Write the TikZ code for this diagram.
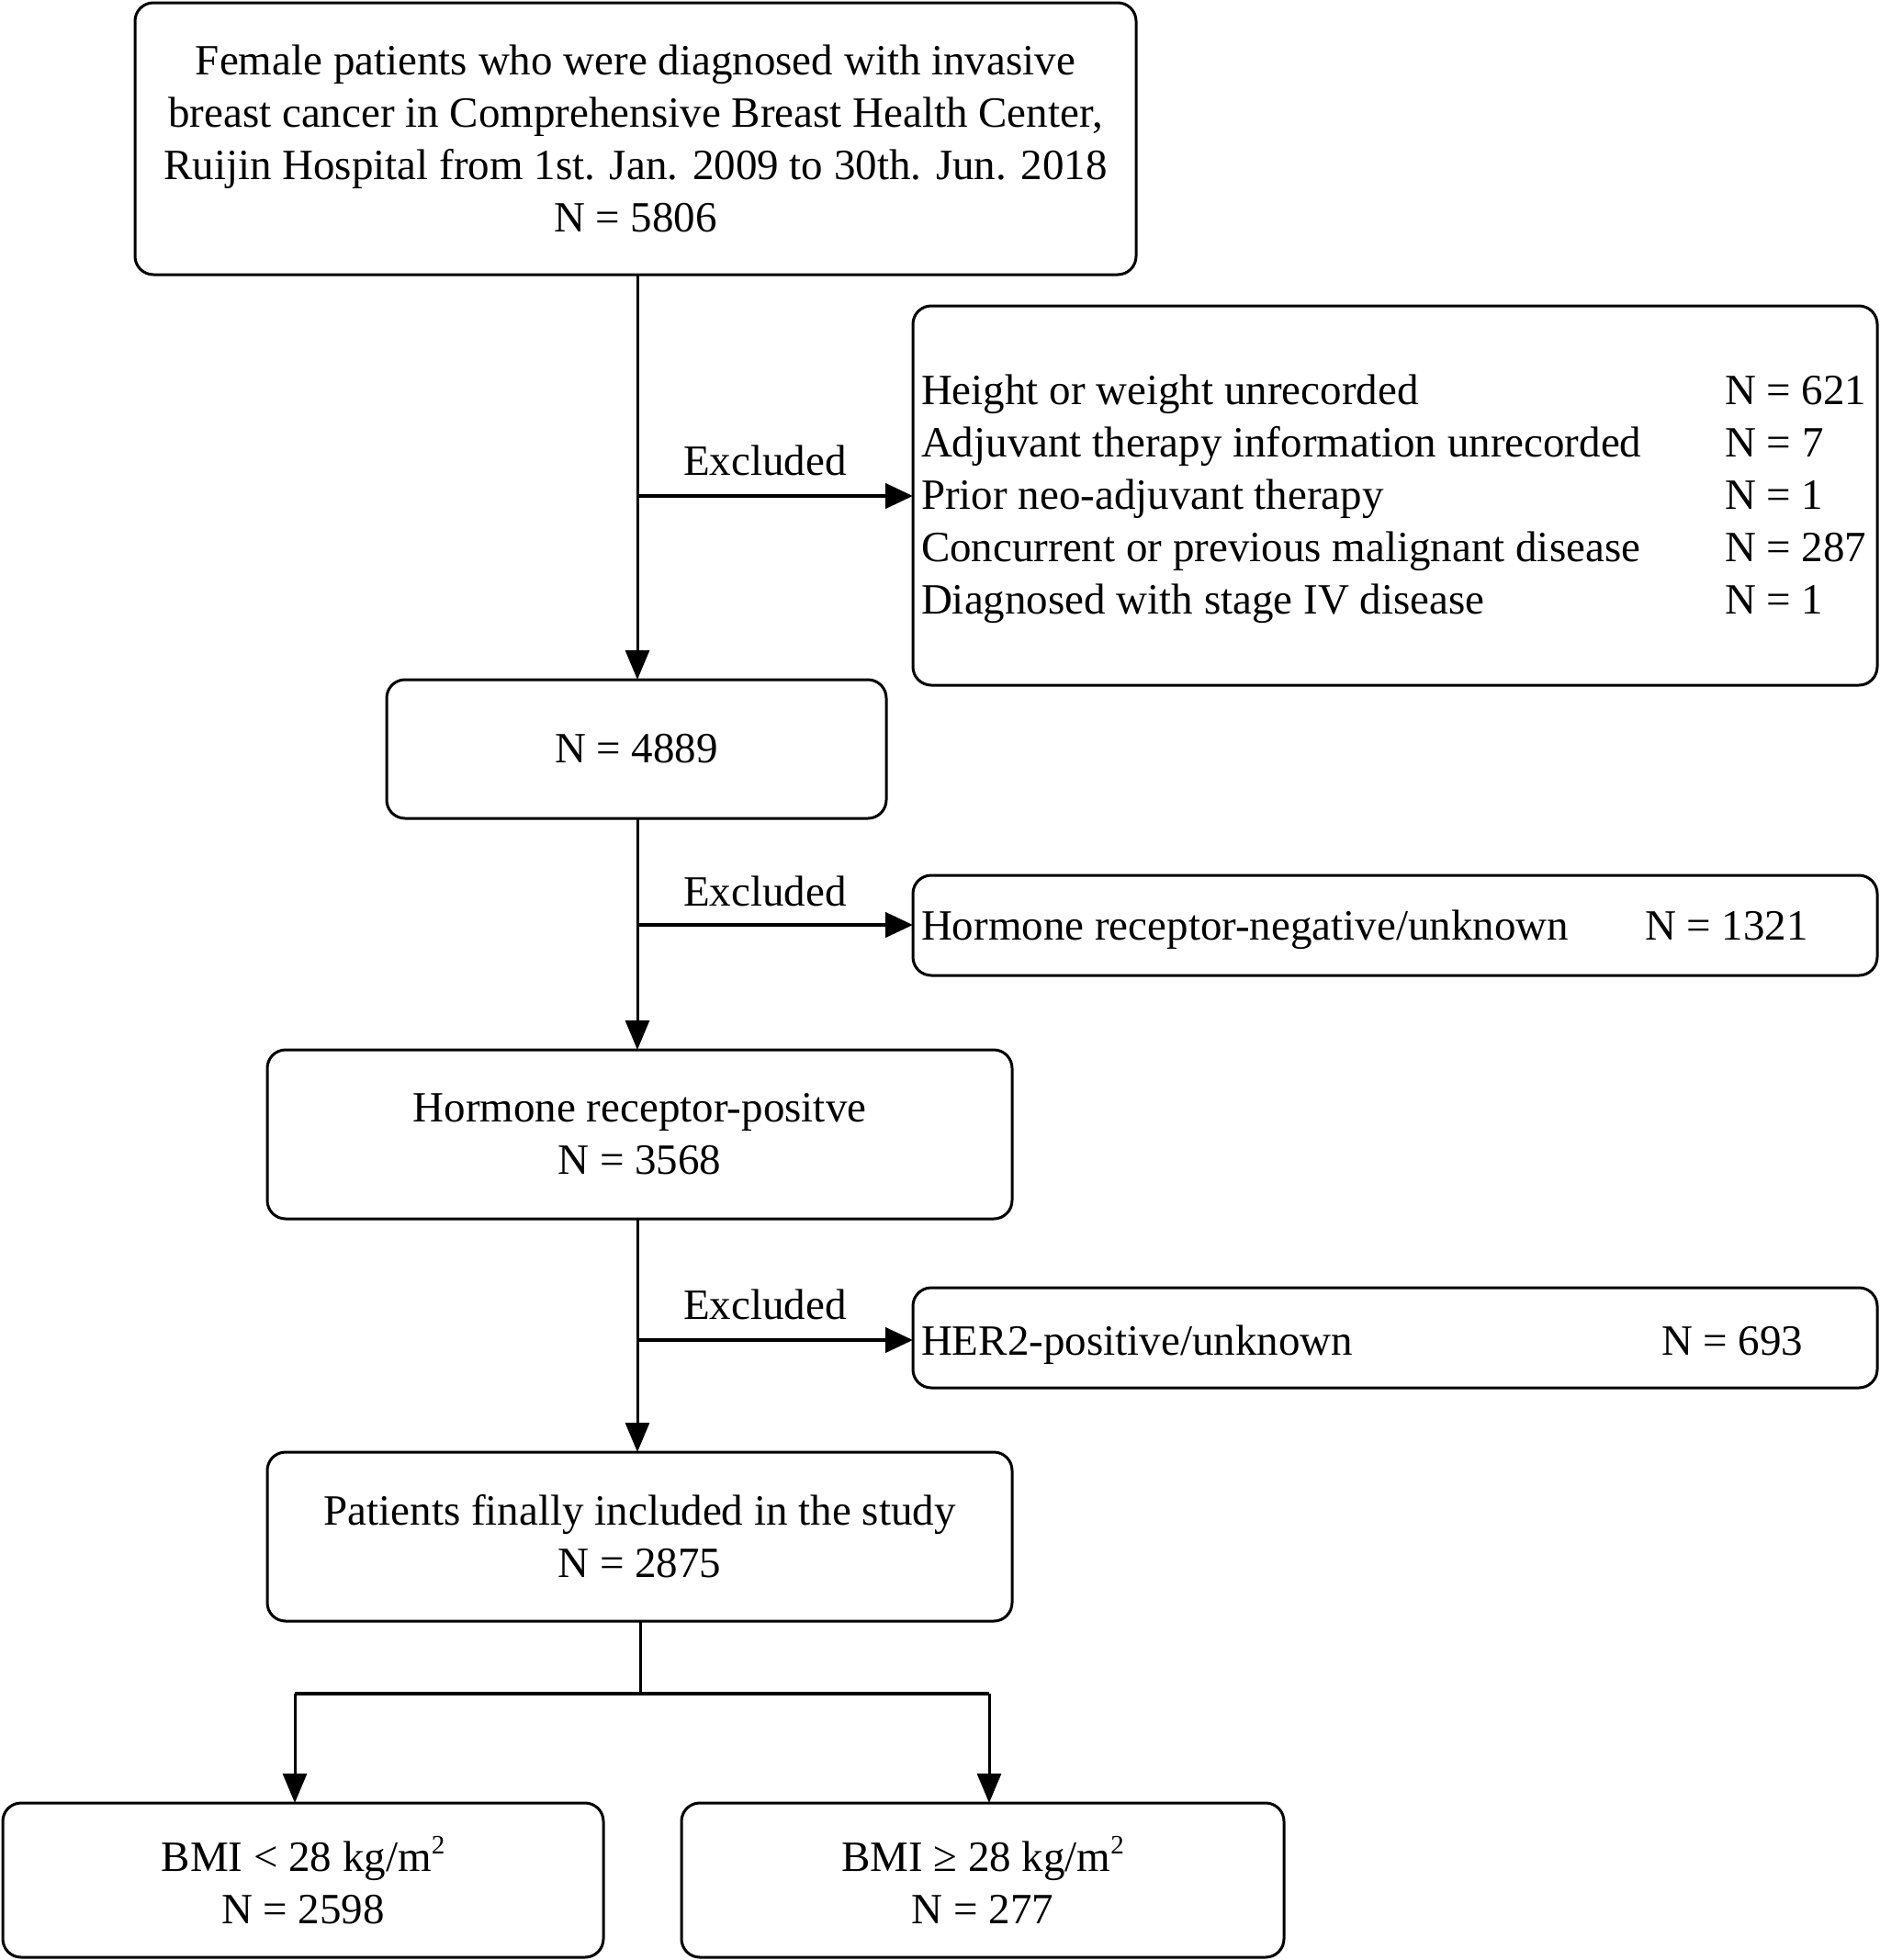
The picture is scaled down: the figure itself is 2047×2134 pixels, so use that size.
\documentclass[tikz,border=0pt]{standalone}
\usepackage{fontspec}
\setmainfont{Liberation Serif}
\usetikzlibrary{arrows.meta,calc}
\newcommand{\sqsup}{\raisebox{0.85ex}{\fontsize{29}{29}\selectfont 2}}
\begin{document}
\begin{tikzpicture}[x=1pt,y=-1pt,
  every node/.style={font=\fontsize{47}{57}\selectfont, inner sep=0pt, outer sep=0pt},
  box/.style={draw, line width=3pt, rounded corners=20pt, align=center},
  vline/.style={line width=3pt},
  varrow/.style={line width=3pt, -{Triangle[length=32pt,width=26pt]}},
  harrow/.style={line width=4.5pt, -{Triangle[length=30pt,width=27pt]}},
  hline/.style={line width=4.5pt}]
\useasboundingbox (0,0) rectangle (2047,2134);

\node[box, minimum width=1090pt, minimum height=296pt] (top) at (692,151)
  {Female patients who were diagnosed with invasive\\breast cancer in Comprehensive Breast Health Center,\\Ruijin Hospital from 1st. Jan. 2009 to 30th. Jun. 2018\\N = 5806};

\node[box, minimum width=1050pt, minimum height=413pt] (ex1) at (1519,539.5) {};
\node[anchor=west] (ex1t) at (1003,543) {\begin{tabular}{@{}p{875pt}@{}l@{}}
Height or weight unrecorded & N = 621\\
Adjuvant therapy information unrecorded & N = 7\\
Prior neo-adjuvant therapy & N = 1\\
Concurrent or previous malignant disease & N = 287\\
Diagnosed with stage IV disease & N = 1
\end{tabular}};

\node[box, minimum width=544pt, minimum height=151pt] (n2) at (693,815.5) {N = 4889};

\node[box, minimum width=1050pt, minimum height=109pt] (ex2) at (1519,1007.5) {};
\node[anchor=base west] (ex2a) at (1003,1023) {Hormone receptor-negative/unknown};
\node[anchor=base west] (ex2b) at (1791,1023) {N = 1321};

\node[box, minimum width=811pt, minimum height=184pt] (n3) at (696.5,1235) {Hormone receptor-positve\\N = 3568};

\node[box, minimum width=1050pt, minimum height=109pt] (ex3) at (1519,1456.5) {};
\node[anchor=base west] (ex3a) at (1003,1475) {HER2-positive/unknown};
\node[anchor=base west] (ex3b) at (1809,1475) {N = 693};

\node[box, minimum width=811pt, minimum height=184pt] (n4) at (696.5,1673) {Patients finally included in the study\\N = 2875};

\node[box, minimum width=654pt, minimum height=168pt] (b1) at (330,2047) {BMI < 28 kg/m\sqsup\\N = 2598};
\node[box, minimum width=656pt, minimum height=168pt] (b2) at (1070,2047) {BMI ≥ 28 kg/m\sqsup\\N = 277};

% main column
\coordinate (c1) at (694,540);
\coordinate (c2) at (694,1007);
\coordinate (c3) at (694,1459);
\draw[varrow] (694,299) -- (694,740);
\draw[varrow] (694,891) -- (694,1143);
\draw[varrow] (694,1327) -- (694,1581);
\draw[harrow] (c1) -- (c1 -| ex1.west);
\draw[harrow] (c2) -- (c2 -| ex2.west);
\draw[harrow] (c3) -- (c3 -| ex3.west);

\node (l1) at (833,501) {Excluded};
\node (l2) at (833,970) {Excluded};
\node (l3) at (833,1420) {Excluded};

% split
\coordinate (sp) at (697,1844);
\coordinate (spl) at (321,1844);
\coordinate (spr) at (1077,1844);
\draw[vline] (n4.south -| sp) -- (sp);
\draw[hline] (spl) -- (spr);
\draw[varrow] (spl) -- (spl |- b1.north);
\draw[varrow] (spr) -- (spr |- b2.north);
\end{tikzpicture}
\end{document}
